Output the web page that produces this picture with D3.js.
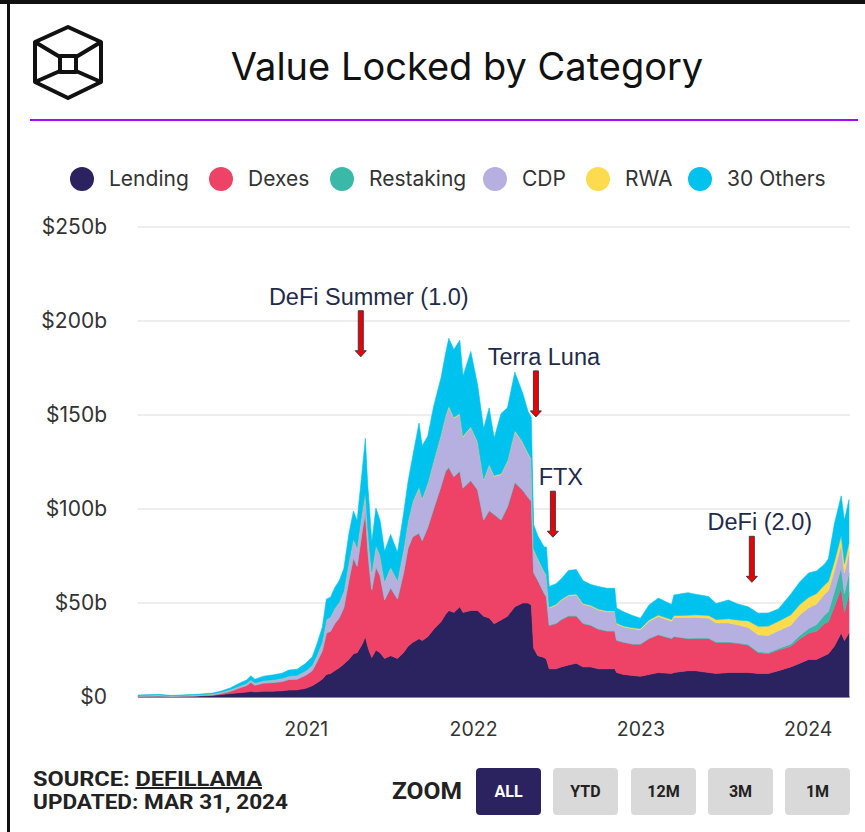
<!DOCTYPE html>
<html>
<head>
<meta charset="utf-8">
<script src="https://cdn.jsdelivr.net/npm/d3@7"></script>
<style>
  html, body { margin: 0; padding: 0; background: #fff; }
  svg { display: block; }
</style>
</head>
<body>
<script>
// series keys and legend labels
var keys = ['lending', 'dexes', 'restaking', 'cdp', 'rwa', 'others'];
var labels = ['Lending', 'Dexes', 'Restaking', 'CDP', 'RWA', '30 Others'];
var colors = ['#2b2260', '#ee4266', '#3bb9a8', '#b5b0e0', '#fcdb4f', '#00c2ee'];

// dates, values in $b
var dates = ['2020-01-01','2020-02-15','2020-03-15','2020-05-01','2020-06-10','2020-07-01','2020-07-20','2020-08-10','2020-08-25','2020-09-03',
  '2020-09-12','2020-10-01','2020-10-20','2020-11-10','2020-11-25','2020-12-13','2021-01-01','2021-01-15','2021-01-25','2021-02-06',
  '2021-02-15','2021-02-24','2021-03-05','2021-03-15','2021-03-25','2021-04-05','2021-04-15','2021-04-23','2021-05-04','2021-05-11',
  '2021-05-16','2021-05-20','2021-05-25','2021-06-03','2021-06-12','2021-06-22','2021-07-05','2021-07-20','2021-08-02','2021-08-12',
  '2021-08-22','2021-09-05','2021-09-12','2021-09-24','2021-10-07','2021-10-23','2021-11-02','2021-11-09','2021-11-20','2021-12-03',
  '2021-12-10','2021-12-27','2022-01-11','2022-01-24','2022-02-05','2022-02-16','2022-03-03','2022-03-17','2022-04-02','2022-04-19',
  '2022-05-01','2022-05-08','2022-05-13','2022-05-22','2022-06-05','2022-06-10','2022-06-16','2022-07-01','2022-07-12','2022-07-28',
  '2022-08-14','2022-08-29','2022-09-15','2022-10-01','2022-10-20','2022-11-06','2022-11-10','2022-11-25','2022-12-15','2023-01-01',
  '2023-01-20','2023-02-09','2023-03-10','2023-03-15','2023-04-15','2023-05-01','2023-05-30','2023-06-15','2023-07-12','2023-08-01',
  '2023-08-24','2023-09-15','2023-10-07','2023-10-29','2023-11-25','2023-12-15','2024-01-03','2024-01-20','2024-02-06','2024-02-15',
  '2024-02-28','2024-03-14','2024-03-21','2024-03-31'];

var lending = [0.3,0.4,0.25,0.4,0.8,1.3,1.8,2.3,2.6,3.0,
  2.7,3.0,3.1,3.3,3.7,3.8,4.6,6.0,7.5,9.5,
  12,12.5,14,15.5,17.5,20,23,23.5,28,32,
  27,24,21,25,23.5,20.5,22,20.5,23.5,27,
  29,31,30,32,36,40,44,46,45,48,
  45,46,46,43,42,39,41,43,48,50,
  50,49,26,22,21,20,15,15,16,17,
  18,16,16,15,15,15,13,12,11.5,11,
  12,13,12.5,13,14,14,13,12.5,13,13,
  13,12.5,12.5,14,16,18,20,20,22,23,
  27,34,30,34];
var dexes = [0.1,0.15,0.1,0.2,0.3,0.6,1.2,2.6,3.5,4.8,
  3.6,4.4,4.6,4.9,5.6,5.7,7.0,8.0,11,15,
  22,22.5,25,26.5,30,42,51,46,60,66,
  52,44,36,44,41,31,36,31.5,42,52,
  56,56,53,58,64,72,76,76,72,72,
  66,69,64,51,57,58,53,58,66,60,
  56,55,40,40,34,33,23,24,25,26,
  25,23,22,21,20,20,17,17,16.5,17,
  19,20,18.5,19,17,17,18,16.5,16,15.5,
  14.5,11,10.5,11,11,13,14,15,17,17,
  21,24,15,21];
var restaking = [0,0,0,0,0,0,0,0,0,0,
  0,0,0,0,0,0,0,0,0,0,
  0,0,0,0.1,0.1,0.1,0.1,0.1,0.2,0.2,
  0.2,0.2,0.2,0.2,0.2,0.2,0.2,0.2,0.2,0.2,
  0.3,0.3,0.3,0.3,0.3,0.3,0.3,0.3,0.3,0.3,
  0.3,0.3,0.3,0.3,0.3,0.3,0.3,0.3,0.3,0.3,
  0.3,0.3,0.3,0.3,0.3,0.3,0.3,0.3,0.3,0.3,
  0.3,0.3,0.3,0.3,0.3,0.3,0.3,0.3,0.3,0.3,
  0.3,0.3,0.3,0.3,0.3,0.4,0.4,0.4,0.4,0.4,
  0.5,0.6,0.7,0.8,1.2,1.8,2.5,3.5,4.5,5.5,
  8,11,10,11];
var cdp = [0.4,0.5,0.3,0.4,0.5,0.6,0.8,1.0,1.1,1.2,
  1.1,1.3,1.4,1.6,1.8,1.9,2.3,2.6,3.3,4.5,
  7,7.5,8,8,8.5,9.5,9.5,9.5,10,10,
  10,10,9,11,10.5,9.5,10.5,9.5,12,14,
  18,24,22,23,25,27,29,32,31,30,
  27,28,25,21,24,20,24,24,27,25,
  23,22,12,11,11,11,9,9.5,10,10.5,
  11,10,10,10,10,10,8.5,8,8,7.5,
  9,9.5,9,10,11,11,10.5,10,10,9.5,
  9,9,9,9.5,10,11,11,11,11,11,
  11,12,11,11];
var rwa = [0,0,0,0,0,0,0,0,0,0,
  0,0,0,0,0,0,0,0.1,0.1,0.1,
  0.1,0.1,0.1,0.2,0.2,0.2,0.3,0.3,0.3,0.4,
  0.3,0.3,0.3,0.3,0.3,0.3,0.3,0.3,0.3,0.3,
  0.4,0.4,0.4,0.4,0.4,0.5,0.5,0.5,0.5,0.5,
  0.5,0.5,0.5,0.5,0.5,0.5,0.5,0.5,0.5,0.5,
  0.5,0.5,0.5,0.5,0.5,0.5,0.5,0.5,0.5,0.5,
  0.5,0.5,0.5,0.5,0.5,0.5,0.5,0.5,0.5,0.6,
  0.7,0.8,0.9,1.0,1.2,1.3,1.5,1.8,2.2,2.6,
  3.5,4.5,5,5,5.5,5.5,5.5,5.5,5,5,
  5,5,5,5];
var others = [0.2,0.3,0.2,0.3,0.4,0.7,1.0,1.5,1.8,2.3,
  2.0,2.4,2.6,2.8,3.2,3.3,4.0,4.6,6.0,8.0,
  11,10.5,11,11.5,12,15,15,14.5,22,29,
  24,22,16,20,18.5,16,17.5,15,19,21,
  24,34,28,25,29,30,33,36,36,39,
  32,40,30,27,30,20,32,28,31,26,
  22,22,13,12,13,15,11,11,11,13,
  13,12,11,12,12,12,8,7.5,6.5,5.5,
  8,9,8,11,12,11,10,8.5,10,8.5,
  7.5,7,7,6.5,11,12,13,12,11,12,
  20,21,23,23];

var yTicks = [0, 50, 100, 150, 200, 250];
var yearTicks = ['2021-01-01', '2022-01-01', '2023-01-01', '2024-01-01'];
var zoomButtons = ['ALL', 'YTD', '12M', '3M', '1M'];

// event annotations: date of arrow, value ($b) where the arrow tip sits
var eventLabels = ['DeFi Summer (1.0)', 'Terra Luna', 'FTX', 'DeFi (2.0)'];
var eventDates = ['2021-05-01', '2022-05-18', '2022-06-24', '2023-09-01'];
var eventTips = [181, 149, 85, 61];

var parse = d3.timeParse('%Y-%m-%d');

var W = 865, H = 832;
var svg = d3.select('body').append('svg').attr('width', W).attr('height', H);

// frame lines (top and left)
svg.append('rect').attr('x', 0).attr('y', 0).attr('width', W).attr('height', 4).attr('fill', '#111');
svg.append('rect').attr('x', 7).attr('y', 0).attr('width', 3).attr('height', H).attr('fill', '#111');

// logo
var logo = svg.append('g').attr('fill', 'none').attr('stroke', '#111').attr('stroke-width', 4).attr('stroke-linejoin', 'round');
logo.append('path').attr('d', 'M68,27 L101,42 L101,82 L68,98 L35,82 L35,42 Z');
logo.append('rect').attr('x', 60).attr('y', 56).attr('width', 16).attr('height', 16);
logo.append('path').attr('d', 'M35,42 L60,57 M101,42 L76,57 M35,82 L60,71 M101,82 L76,71');

svg.append('text')
    .attr('x', 467).attr('y', 80)
    .attr('text-anchor', 'middle')
    .attr('font-family', 'Inter, sans-serif')
    .attr('font-size', 38)
    .attr('fill', '#111')
    .text('Value Locked by Category');

svg.append('rect').attr('x', 30).attr('y', 119).attr('width', 828).attr('height', 2).attr('fill', '#a30cff');

// legend
var legendX = [82, 221, 342, 495, 598, 700];
var legend = svg.append('g');
labels.forEach(function (l, i) {
    legend.append('circle').attr('cx', legendX[i]).attr('cy', 179).attr('r', 12).attr('fill', colors[i]);
    legend.append('text')
        .attr('x', legendX[i] + 27).attr('y', 186)
        .attr('font-family', 'Inter, sans-serif')
        .attr('font-size', 21)
        .attr('fill', '#333')
        .text(l);
});

var x = d3.scaleTime().domain([parse('2020-01-01'), parse('2024-03-31')]).range([138, 849]);
var y = d3.scaleLinear().domain([0, 250]).range([697, 227]);

var series = { lending: lending, dexes: dexes, restaking: restaking, cdp: cdp, rwa: rwa, others: others };
var table = dates.map(function (d, i) {
    var row = { date: parse(d) };
    keys.forEach(function (k) { row[k] = series[k][i]; });
    return row;
});

// gridlines
svg.append('g').selectAll('line').data(yTicks).enter().append('line')
    .attr('x1', 138).attr('x2', 850)
    .attr('y1', function (d) { return y(d); })
    .attr('y2', function (d) { return y(d); })
    .attr('stroke', function (d) { return d === 0 ? '#999' : '#e9e9e9'; })
    .attr('stroke-width', 1.5);

var yAxis = svg.append('g')
    .attr('transform', 'translate(107,0)')
    .call(d3.axisLeft(y).tickValues(yTicks).tickSize(0).tickPadding(0)
        .tickFormat(function (d) { return d === 0 ? '$0' : '$' + d + 'b'; }));
yAxis.select('.domain').remove();
yAxis.selectAll('text')
    .attr('font-family', 'Inter, sans-serif')
    .attr('font-size', 21)
    .attr('fill', '#333');

var stack = d3.stack().keys(keys);
var layers = stack(table);

var area = d3.area()
    .x(function (d) { return x(d.data.date); })
    .y0(function (d) { return y(d[0]); })
    .y1(function (d) { return y(d[1]); });

svg.append('g').selectAll('path').data(layers).enter().append('path')
    .attr('d', area)
    .attr('fill', function (d, i) { return colors[i]; })
    .attr('stroke', function (d, i) { return colors[i]; })
    .attr('stroke-width', 0.6);

var xAxis = svg.append('g')
    .attr('transform', 'translate(0,716)')
    .call(d3.axisBottom(x).tickValues(yearTicks.map(parse)).tickSize(0).tickPadding(6)
        .tickFormat(d3.timeFormat('%Y')));
xAxis.select('.domain').remove();
xAxis.selectAll('text')
    .attr('font-family', 'Inter, sans-serif')
    .attr('font-size', 19.5)
    .attr('fill', '#333');

// event arrows
var ann = svg.append('g');
eventLabels.forEach(function (l, i) {
    var ax = x(parse(eventDates[i]));
    var tip = y(eventTips[i]);
    var top = tip - 46;
    ann.append('path')
        .attr('d', 'M' + (ax - 2.5) + ',' + top + ' L' + (ax + 2.5) + ',' + top +
            ' L' + (ax + 2.5) + ',' + (tip - 6) + ' L' + (ax + 5.5) + ',' + (tip - 6) +
            ' L' + ax + ',' + tip + ' L' + (ax - 5.5) + ',' + (tip - 6) +
            ' L' + (ax - 2.5) + ',' + (tip - 6) + ' Z')
        .attr('fill', '#ee0000')
        .attr('stroke', '#3a3a4a')
        .attr('stroke-width', 1);
    ann.append('text')
        .attr('x', ax + 8).attr('y', top - 6)
        .attr('text-anchor', 'middle')
        .attr('font-family', 'Liberation Sans, Arial, sans-serif')
        .attr('font-size', 23.5)
        .attr('fill', '#1f2b4a')
        .text(l);
});

// footer
var foot = svg.append('g')
    .attr('font-family', 'Roboto, sans-serif')
    .attr('font-weight', 700)
    .attr('fill', '#222');
var src = foot.append('text').attr('x', 33).attr('y', 786).attr('font-size', 20)
    .attr('textLength', 229).attr('lengthAdjust', 'spacingAndGlyphs');
src.append('tspan').text('SOURCE: ');
src.append('tspan').attr('text-decoration', 'underline').text('DEFILLAMA');
foot.append('text').attr('x', 33).attr('y', 809).attr('font-size', 20)
    .attr('textLength', 255).attr('lengthAdjust', 'spacingAndGlyphs')
    .text('UPDATED: MAR 31, 2024');
foot.append('text').attr('x', 392).attr('y', 799).attr('font-size', 24)
    .attr('textLength', 70).attr('lengthAdjust', 'spacingAndGlyphs')
    .text('ZOOM');

var btnX = [476, 553, 631, 708, 785];
zoomButtons.forEach(function (b, i) {
    foot.append('rect')
        .attr('x', btnX[i]).attr('y', 768).attr('width', 65).attr('height', 47).attr('rx', 4)
        .attr('fill', i === 0 ? '#2b2260' : '#d9d9d9');
    foot.append('text')
        .attr('x', btnX[i] + 32.5).attr('y', 797)
        .attr('text-anchor', 'middle')
        .attr('font-size', 16)
        .attr('fill', i === 0 ? '#fff' : '#222')
        .text(b);
});
</script>
</body>
</html>
